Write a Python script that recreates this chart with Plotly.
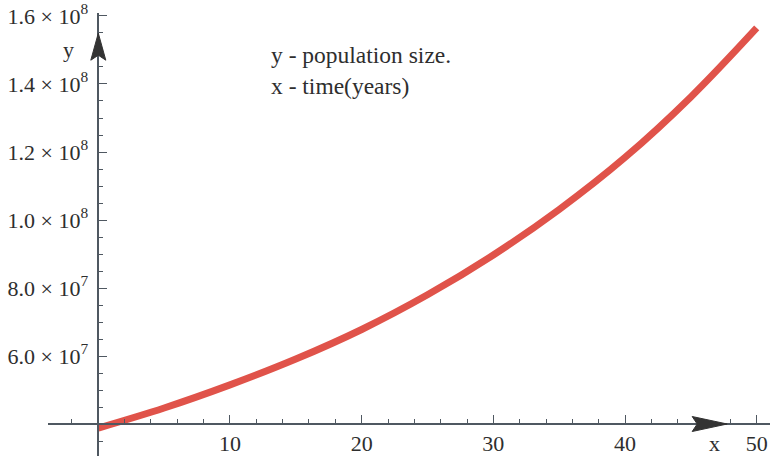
import plotly.graph_objects as go

# Data
years = [0, 5, 10, 15, 20, 25, 30, 35, 40, 45, 50]
population = [3.88e7, 4.47e7, 5.15e7, 5.91e7, 6.78e7, 7.80e7, 8.97e7, 1.031e8, 1.184e8, 1.362e8, 1.565e8]

x_tick_vals = [10, 20, 30, 40, 50]
y_tick_vals = [6e7, 8e7, 1e8, 1.2e8, 1.4e8, 1.6e8]
y_tick_text = ["6.0 × 10<sup>7</sup>", "8.0 × 10<sup>7</sup>", "1.0 × 10<sup>8</sup>",
               "1.2 × 10<sup>8</sup>", "1.4 × 10<sup>8</sup>", "1.6 × 10<sup>8</sup>"]

x_range = [-3.82, 51.01]
y_range = [3.059e7, 1.6088e8]
x_cross = 0
y_cross = 4e7

axis_color = "#4f5861"
text_color = "#2e2e2e"
font_family = "Liberation Serif"

fig = go.Figure()
fig.add_trace(go.Scatter(
    x=years, y=population, mode="lines",
    line=dict(color="#E0534A", width=7, shape="spline"),
    hoverinfo="skip", showlegend=False,
))

xpos = (y_cross - y_range[0]) / (y_range[1] - y_range[0])
ypos = (x_cross - x_range[0]) / (x_range[1] - x_range[0])

fig.update_layout(
    width=770, height=456,
    margin=dict(l=48, r=0, t=13, b=0),
    paper_bgcolor="white", plot_bgcolor="white",
    font=dict(family=font_family, size=22, color=text_color),
    xaxis=dict(
        range=x_range, anchor="free", position=xpos,
        showline=True, linecolor=axis_color, linewidth=1.5,
        showgrid=False, zeroline=False,
        tickmode="array", tickvals=x_tick_vals,
        ticks="inside", ticklen=8, tickwidth=1.2, tickcolor=axis_color,
        minor=dict(dtick=2, tick0=0, ticks="inside", ticklen=4, tickwidth=1.2, tickcolor=axis_color),
        tickfont=dict(family=font_family, size=22, color=text_color),
        ticklabeloverflow="allow",
        automargin=False, fixedrange=True,
    ),
    yaxis=dict(
        range=y_range, anchor="free", position=ypos,
        showline=True, linecolor=axis_color, linewidth=1.5,
        showgrid=False, zeroline=False,
        tickmode="array", tickvals=y_tick_vals, ticktext=y_tick_text,
        ticks="inside", ticklen=8, tickwidth=1.2, tickcolor=axis_color,
        minor=dict(dtick=5e6, tick0=0, ticks="inside", ticklen=4, tickwidth=1.2, tickcolor=axis_color),
        tickfont=dict(family=font_family, size=22, color=text_color),
        ticklabeloverflow="allow", ticklabelstandoff=5,
        automargin=False, fixedrange=True,
    ),
)

# Arrow heads on the axes
fig.add_shape(type="path", xref="x", yref="y", xsizemode="pixel", ysizemode="pixel",
              xanchor=x_cross, yanchor=1.47e8,
              path="M 0 27 L -7.5 0 L 0 5 L 7.5 0 Z",
              fillcolor="#333333", line=dict(color="#333333", width=1))
fig.add_shape(type="path", xref="x", yref="y", xsizemode="pixel", ysizemode="pixel",
              xanchor=45.1, yanchor=y_cross,
              path="M 35 0 L 0 7.5 L 5 0 L 0 -7.5 Z",
              fillcolor="#333333", line=dict(color="#333333", width=1))

# Axis labels and legend text
fig.add_annotation(x=-2.3, y=1.5e8, text="y", showarrow=False, xref="x", yref="y",
                   font=dict(family=font_family, size=22, color=text_color))
fig.add_annotation(x=46.8, y=3.44e7, text="x", showarrow=False, xref="x", yref="y",
                   font=dict(family=font_family, size=22, color=text_color))
fig.add_annotation(x=13.0, y=1.4853e8, text="y - population size.", showarrow=False,
                   xref="x", yref="y", xanchor="left",
                   font=dict(family=font_family, size=23.5, color=text_color))
fig.add_annotation(x=13.0, y=1.3941e8, text="x - time(years)", showarrow=False,
                   xref="x", yref="y", xanchor="left",
                   font=dict(family=font_family, size=23.5, color=text_color))

fig.write_html(
    "out.html",
    config={"displayModeBar": False},
    post_script="document.body.style.margin='0';document.body.style.overflow='hidden';",
)
